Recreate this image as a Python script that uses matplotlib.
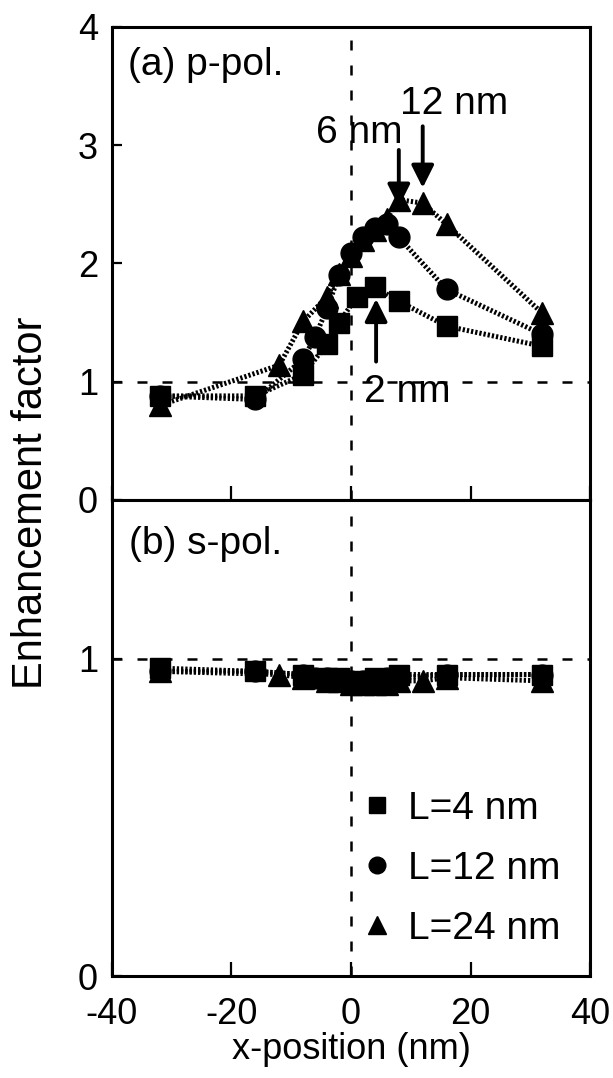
import matplotlib
matplotlib.use("Agg")
import matplotlib.pyplot as plt
from matplotlib.lines import Line2D

plt.rcParams["font.family"] = ["Liberation Sans", "DejaVu Sans"]
plt.rcParams["axes.unicode_minus"] = False

# x positions (nm) for each wire length
x_L4 = [-32, -16, -8, -4, -2, 1, 4, 8, 16, 32]
x_L12 = [-32, -16, -8, -6, -4, -2, 0, 2, 4, 6, 8, 16, 32]
x_L24 = [-32, -12, -8, -4, -2, 0, 2, 4, 6, 8, 12, 16, 32]

# (a) p-polarization enhancement
p_L4 = [0.88, 0.88, 1.06, 1.32, 1.50, 1.72, 1.80, 1.68, 1.47, 1.30]
p_L12 = [0.88, 0.85, 1.19, 1.38, 1.62, 1.90, 2.09, 2.22, 2.30, 2.33, 2.22, 1.78, 1.40]
p_L24 = [0.80, 1.14, 1.51, 1.72, 1.91, 2.06, 2.20, 2.28, 2.38, 2.54, 2.51, 2.33, 1.58]

# (b) s-polarization enhancement
s_L4 = [0.97, 0.96, 0.95, 0.94, 0.94, 0.93, 0.94, 0.95, 0.95, 0.95]
s_L12 = [0.96, 0.96, 0.95, 0.94, 0.94, 0.93, 0.93, 0.93, 0.93, 0.94, 0.94, 0.95, 0.95]
s_L24 = [0.96, 0.95, 0.94, 0.93, 0.93, 0.92, 0.92, 0.92, 0.92, 0.93, 0.93, 0.94, 0.93]

labels = ["L=4 nm", "L=12 nm", "L=24 nm"]
markers = ["s", "o", "^"]
msizes = [15, 15, 16]

fig = plt.figure(figsize=(6.13, 10.78), dpi=100)
ax1 = fig.add_axes([0.1827, 0.5362, 0.7798, 0.4388])
ax2 = fig.add_axes([0.1827, 0.0946, 0.7798, 0.4416])

dotted = (0, (0.45, 0.4))
series_p = [(x_L4, p_L4), (x_L12, p_L12), (x_L24, p_L24)]
series_s = [(x_L4, s_L4), (x_L12, s_L12), (x_L24, s_L24)]

for ax, series in [(ax1, series_p), (ax2, series_s)]:
    ax.axhline(1, color="black", lw=1.8, ls=(0, (4, 6)), zorder=1)
    ax.axvline(0, color="black", lw=1.8, ls=(0, (4, 6)), zorder=1)
    for (xs, ys), m, ms in zip(series, markers, msizes):
        ax.plot(xs, ys, color="black", lw=3.6, ls=dotted, dash_capstyle="butt",
                marker=m, markersize=ms, markerfacecolor="black",
                markeredgecolor="black", zorder=3)
    ax.set_xlim(-40, 40)
    ax.set_xticks([-40, -20, 0, 20, 40])
    ax.tick_params(direction="in", width=1.6, labelsize=26)
    ax.tick_params(axis="x", length=10, pad=15)
    ax.tick_params(axis="y", length=7, pad=10)
    for sp in ax.spines.values():
        sp.set_linewidth(2.2)

ax1.set_ylim(0, 4)
ax1.set_yticks([0, 1, 2, 3, 4])
ax1.tick_params(axis="x", labelbottom=False)
ax2.set_ylim(0, 1.5)
ax2.set_yticks([0, 1])

# arrows marking L/2 positions
arrow = dict(arrowstyle="-|>", lw=2.8, color="black", mutation_scale=34,
             shrinkA=0, shrinkB=0)
ax1.annotate("", xy=(8, 2.48), xytext=(8, 2.96), arrowprops=arrow, zorder=5)
ax1.annotate("", xy=(12, 2.64), xytext=(12, 3.16), arrowprops=arrow, zorder=5)
ax1.annotate("", xy=(4.2, 1.70), xytext=(4.2, 1.17), arrowprops=arrow, zorder=5)
ax1.text(1.4, 3.10, "6 nm", fontsize=28, ha="center", va="center")
ax1.text(17.2, 3.35, "12 nm", fontsize=28, ha="center", va="center")
ax1.text(9.4, 0.91, "2 nm", fontsize=28, ha="center", va="center")

ax1.text(-37.4, 3.68, "(a) p-pol.", fontsize=28, ha="left", va="center")
ax2.text(-37.2, 1.36, "(b) s-pol.", fontsize=28, ha="left", va="center")

handles = [Line2D([], [], color="black", ls="none", marker=m, markersize=ms - 3)
           for m, ms in zip(markers, msizes)]
ax2.legend(handles, labels, loc="lower left", bbox_to_anchor=(0.49, 0.02),
           frameon=False, fontsize=28, handlelength=0.6, handletextpad=0.5,
           labelspacing=0.62, borderpad=0)

ax2.set_xlabel("x-position (nm)", fontsize=26, labelpad=0)
fig.text(0.050, 0.534, "Enhancement factor", rotation=90, fontsize=30,
         ha="center", va="center")

fig.savefig("out.png", dpi=100)
